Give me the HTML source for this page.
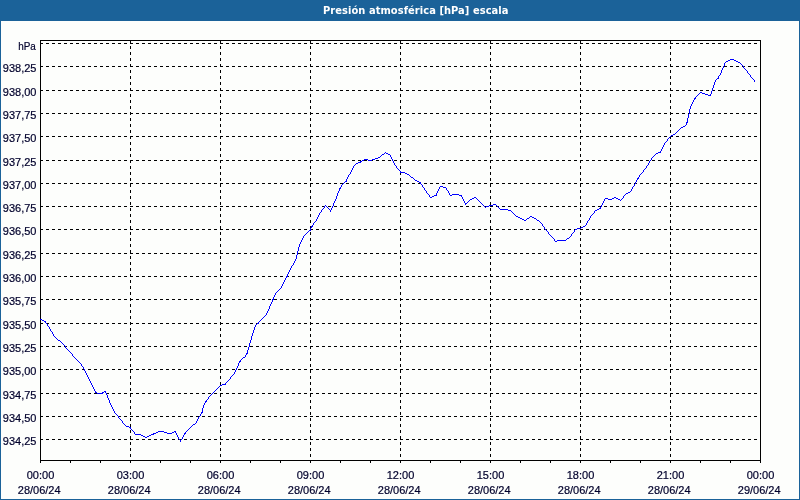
<!DOCTYPE html>
<html lang="es"><head><meta charset="utf-8"><title>Presión atmosférica [hPa] escala</title>
<style>html,body{margin:0;padding:0;width:800px;height:500px;overflow:hidden;background:#1b6299}svg{display:block;position:absolute;left:0;top:0}text{font-family:"Liberation Sans", sans-serif;font-size:11px;fill:#00002c;stroke:#00002c;stroke-width:.2px}.t{font-family:"DejaVu Sans Condensed", "Liberation Sans", sans-serif;font-weight:bold;fill:#fff;font-size:11px;stroke:none}</style></head><body>
<svg width="800" height="500" viewBox="0 0 800 500">
<rect x="0" y="0" width="800" height="500" fill="#1b6299"/>
<rect x="1" y="21" width="798" height="478" fill="#fdfefc"/>
<text class="t" x="323" y="14" textLength="185.5" lengthAdjust="spacing">Presión atmosférica [hPa] escala</text>
<g shape-rendering="crispEdges" stroke="#000" stroke-width="1" fill="none">
<line x1="40" y1="43.5" x2="760" y2="43.5" stroke-dasharray="3 3"/>
<line x1="40" y1="66.5" x2="760" y2="66.5" stroke-dasharray="3 3"/>
<line x1="40" y1="90.5" x2="760" y2="90.5" stroke-dasharray="3 3"/>
<line x1="40" y1="113.5" x2="760" y2="113.5" stroke-dasharray="3 3"/>
<line x1="40" y1="136.5" x2="760" y2="136.5" stroke-dasharray="3 3"/>
<line x1="40" y1="160.5" x2="760" y2="160.5" stroke-dasharray="3 3"/>
<line x1="40" y1="183.5" x2="760" y2="183.5" stroke-dasharray="3 3"/>
<line x1="40" y1="206.5" x2="760" y2="206.5" stroke-dasharray="3 3"/>
<line x1="40" y1="229.5" x2="760" y2="229.5" stroke-dasharray="3 3"/>
<line x1="40" y1="253.5" x2="760" y2="253.5" stroke-dasharray="3 3"/>
<line x1="40" y1="276.5" x2="760" y2="276.5" stroke-dasharray="3 3"/>
<line x1="40" y1="299.5" x2="760" y2="299.5" stroke-dasharray="3 3"/>
<line x1="40" y1="323.5" x2="760" y2="323.5" stroke-dasharray="3 3"/>
<line x1="40" y1="346.5" x2="760" y2="346.5" stroke-dasharray="3 3"/>
<line x1="40" y1="369.5" x2="760" y2="369.5" stroke-dasharray="3 3"/>
<line x1="40" y1="393.5" x2="760" y2="393.5" stroke-dasharray="3 3"/>
<line x1="40" y1="416.5" x2="760" y2="416.5" stroke-dasharray="3 3"/>
<line x1="40" y1="439.5" x2="760" y2="439.5" stroke-dasharray="3 3"/>
<line x1="40.5" y1="40" x2="40.5" y2="460" stroke-dasharray="3 3"/>
<line x1="130.5" y1="40" x2="130.5" y2="460" stroke-dasharray="3 3"/>
<line x1="220.5" y1="40" x2="220.5" y2="460" stroke-dasharray="3 3"/>
<line x1="310.5" y1="40" x2="310.5" y2="460" stroke-dasharray="3 3"/>
<line x1="400.5" y1="40" x2="400.5" y2="460" stroke-dasharray="3 3"/>
<line x1="490.5" y1="40" x2="490.5" y2="460" stroke-dasharray="3 3"/>
<line x1="580.5" y1="40" x2="580.5" y2="460" stroke-dasharray="3 3"/>
<line x1="670.5" y1="40" x2="670.5" y2="460" stroke-dasharray="3 3"/>
<line x1="760.5" y1="40" x2="760.5" y2="460" stroke-dasharray="3 3"/>
<rect x="40.5" y="40.5" width="720" height="420"/>
<line x1="40.5" y1="461" x2="40.5" y2="463"/>
<line x1="70.5" y1="461" x2="70.5" y2="463"/>
<line x1="100.5" y1="461" x2="100.5" y2="463"/>
<line x1="130.5" y1="461" x2="130.5" y2="463"/>
<line x1="160.5" y1="461" x2="160.5" y2="463"/>
<line x1="190.5" y1="461" x2="190.5" y2="463"/>
<line x1="220.5" y1="461" x2="220.5" y2="463"/>
<line x1="250.5" y1="461" x2="250.5" y2="463"/>
<line x1="280.5" y1="461" x2="280.5" y2="463"/>
<line x1="310.5" y1="461" x2="310.5" y2="463"/>
<line x1="340.5" y1="461" x2="340.5" y2="463"/>
<line x1="370.5" y1="461" x2="370.5" y2="463"/>
<line x1="400.5" y1="461" x2="400.5" y2="463"/>
<line x1="430.5" y1="461" x2="430.5" y2="463"/>
<line x1="460.5" y1="461" x2="460.5" y2="463"/>
<line x1="490.5" y1="461" x2="490.5" y2="463"/>
<line x1="520.5" y1="461" x2="520.5" y2="463"/>
<line x1="550.5" y1="461" x2="550.5" y2="463"/>
<line x1="580.5" y1="461" x2="580.5" y2="463"/>
<line x1="610.5" y1="461" x2="610.5" y2="463"/>
<line x1="640.5" y1="461" x2="640.5" y2="463"/>
<line x1="670.5" y1="461" x2="670.5" y2="463"/>
<line x1="700.5" y1="461" x2="700.5" y2="463"/>
<line x1="730.5" y1="461" x2="730.5" y2="463"/>
<line x1="760.5" y1="461" x2="760.5" y2="463"/>
</g>
<path shape-rendering="crispEdges" fill="#0000ff" d="M40 319h1v1h-1zM41 319h1v1h-1zM42 320h1v1h-1zM43 320h1v1h-1zM44 321h1v1h-1zM45 321h1v2h-1zM46 323h1v1h-1zM47 324h1v2h-1zM48 326h1v1h-1zM49 327h1v2h-1zM50 329h1v2h-1zM51 331h1v1h-1zM52 332h1v2h-1zM53 334h1v2h-1zM54 336h1v1h-1zM55 337h1v1h-1zM56 338h1v1h-1zM57 339h1v1h-1zM58 340h1v1h-1zM59 340h1v1h-1zM60 341h1v1h-1zM61 342h1v1h-1zM62 343h1v1h-1zM63 344h1v1h-1zM64 345h1v1h-1zM65 346h1v2h-1zM66 348h1v1h-1zM67 349h1v1h-1zM68 350h1v1h-1zM69 351h1v1h-1zM70 352h1v1h-1zM71 353h1v1h-1zM72 354h1v2h-1zM73 356h1v1h-1zM74 357h1v1h-1zM75 358h1v1h-1zM76 359h1v1h-1zM77 360h1v1h-1zM78 361h1v1h-1zM79 362h1v1h-1zM80 363h1v1h-1zM81 364h1v2h-1zM82 366h1v1h-1zM83 367h1v2h-1zM84 369h1v2h-1zM85 371h1v2h-1zM86 373h1v2h-1zM87 375h1v2h-1zM88 377h1v2h-1zM89 379h1v2h-1zM90 381h1v2h-1zM91 383h1v2h-1zM92 385h1v2h-1zM93 387h1v2h-1zM94 389h1v2h-1zM95 391h1v2h-1zM96 392h1v1h-1zM97 393h1v1h-1zM98 393h1v1h-1zM99 393h1v1h-1zM100 393h1v1h-1zM101 393h1v1h-1zM102 392h1v2h-1zM103 392h1v1h-1zM104 391h1v1h-1zM105 391h1v2h-1zM106 393h1v2h-1zM107 395h1v3h-1zM108 398h1v2h-1zM109 400h1v3h-1zM110 403h1v2h-1zM111 405h1v2h-1zM112 407h1v2h-1zM113 409h1v2h-1zM114 411h1v2h-1zM115 413h1v1h-1zM116 414h1v1h-1zM117 415h1v1h-1zM118 416h1v2h-1zM119 418h1v1h-1zM120 419h1v1h-1zM121 420h1v1h-1zM122 421h1v2h-1zM123 423h1v1h-1zM124 424h1v1h-1zM125 425h1v1h-1zM126 426h1v1h-1zM127 426h1v1h-1zM128 426h1v1h-1zM129 427h1v1h-1zM130 427h1v2h-1zM131 429h1v1h-1zM132 430h1v1h-1zM133 431h1v1h-1zM134 432h1v2h-1zM135 434h1v1h-1zM136 434h1v1h-1zM137 434h1v1h-1zM138 434h1v1h-1zM139 434h1v1h-1zM140 434h1v1h-1zM141 435h1v1h-1zM142 435h1v1h-1zM143 436h1v1h-1zM144 436h1v1h-1zM145 437h1v1h-1zM146 437h1v1h-1zM147 436h1v1h-1zM148 436h1v1h-1zM149 435h1v1h-1zM150 435h1v1h-1zM151 434h1v1h-1zM152 434h1v1h-1zM153 433h1v2h-1zM154 433h1v1h-1zM155 433h1v1h-1zM156 432h1v1h-1zM157 432h1v1h-1zM158 431h1v1h-1zM159 431h1v1h-1zM160 431h1v1h-1zM161 431h1v1h-1zM162 431h1v1h-1zM163 431h1v1h-1zM164 432h1v1h-1zM165 432h1v1h-1zM166 432h1v1h-1zM167 433h1v1h-1zM168 433h1v1h-1zM169 433h1v1h-1zM170 433h1v1h-1zM171 433h1v1h-1zM172 432h1v1h-1zM173 432h1v1h-1zM174 431h1v1h-1zM175 431h1v2h-1zM176 433h1v2h-1zM177 435h1v2h-1zM178 437h1v2h-1zM179 439h1v1h-1zM180 440h1v2h-1zM181 439h1v1h-1zM182 437h1v2h-1zM183 435h1v2h-1zM184 433h1v2h-1zM185 432h1v2h-1zM186 431h1v1h-1zM187 430h1v1h-1zM188 429h1v1h-1zM189 428h1v1h-1zM190 427h1v1h-1zM191 426h1v1h-1zM192 425h1v1h-1zM193 424h1v1h-1zM194 424h1v1h-1zM195 423h1v1h-1zM196 421h1v2h-1zM197 419h1v2h-1zM198 417h1v2h-1zM199 416h1v1h-1zM200 414h1v2h-1zM201 412h1v2h-1zM202 408h1v5h-1zM203 405h1v3h-1zM204 403h1v2h-1zM205 401h1v2h-1zM206 400h1v2h-1zM207 399h1v1h-1zM208 397h1v2h-1zM209 396h1v1h-1zM210 395h1v1h-1zM211 394h1v1h-1zM212 393h1v1h-1zM213 392h1v1h-1zM214 391h1v1h-1zM215 390h1v1h-1zM216 389h1v1h-1zM217 388h1v1h-1zM218 387h1v1h-1zM219 386h1v1h-1zM220 385h1v1h-1zM221 385h1v1h-1zM222 384h1v1h-1zM223 384h1v1h-1zM224 384h1v1h-1zM225 383h1v2h-1zM226 382h1v1h-1zM227 381h1v1h-1zM228 380h1v1h-1zM229 379h1v1h-1zM230 377h1v2h-1zM231 376h1v1h-1zM232 375h1v1h-1zM233 374h1v1h-1zM234 372h1v2h-1zM235 370h1v2h-1zM236 368h1v2h-1zM237 366h1v2h-1zM238 363h1v3h-1zM239 361h1v2h-1zM240 360h1v2h-1zM241 359h1v1h-1zM242 358h1v1h-1zM243 357h1v1h-1zM244 357h1v1h-1zM245 355h1v2h-1zM246 353h1v2h-1zM247 350h1v4h-1zM248 347h1v3h-1zM249 343h1v4h-1zM250 340h1v3h-1zM251 336h1v4h-1zM252 333h1v3h-1zM253 330h1v3h-1zM254 327h1v3h-1zM255 325h1v2h-1zM256 324h1v1h-1zM257 323h1v1h-1zM258 322h1v2h-1zM259 321h1v1h-1zM260 320h1v1h-1zM261 319h1v1h-1zM262 318h1v1h-1zM263 317h1v1h-1zM264 316h1v1h-1zM265 315h1v1h-1zM266 313h1v2h-1zM267 311h1v2h-1zM268 309h1v2h-1zM269 306h1v3h-1zM270 304h1v2h-1zM271 302h1v2h-1zM272 299h1v3h-1zM273 297h1v3h-1zM274 295h1v2h-1zM275 293h1v2h-1zM276 292h1v1h-1zM277 291h1v1h-1zM278 290h1v1h-1zM279 289h1v1h-1zM280 288h1v1h-1zM281 286h1v2h-1zM282 284h1v2h-1zM283 282h1v2h-1zM284 280h1v2h-1zM285 278h1v2h-1zM286 276h1v2h-1zM287 274h1v3h-1zM288 272h1v2h-1zM289 270h1v2h-1zM290 268h1v2h-1zM291 266h1v2h-1zM292 265h1v1h-1zM293 263h1v2h-1zM294 261h1v2h-1zM295 259h1v2h-1zM296 255h1v4h-1zM297 251h1v4h-1zM298 247h1v4h-1zM299 244h1v3h-1zM300 242h1v2h-1zM301 240h1v2h-1zM302 238h1v2h-1zM303 236h1v2h-1zM304 235h1v1h-1zM305 234h1v1h-1zM306 233h1v1h-1zM307 232h1v1h-1zM308 231h1v1h-1zM309 230h1v1h-1zM310 228h1v3h-1zM311 226h1v2h-1zM312 225h1v2h-1zM313 223h1v2h-1zM314 222h1v1h-1zM315 221h1v1h-1zM316 219h1v2h-1zM317 217h1v2h-1zM318 215h1v2h-1zM319 213h1v2h-1zM320 212h1v1h-1zM321 210h1v2h-1zM322 209h1v1h-1zM323 208h1v1h-1zM324 206h1v2h-1zM325 205h1v1h-1zM326 206h1v1h-1zM327 207h1v1h-1zM328 208h1v1h-1zM329 209h1v1h-1zM330 210h1v2h-1zM331 208h1v2h-1zM332 206h1v2h-1zM333 203h1v3h-1zM334 201h1v2h-1zM335 199h1v2h-1zM336 196h1v3h-1zM337 193h1v3h-1zM338 191h1v2h-1zM339 188h1v3h-1zM340 187h1v2h-1zM341 185h1v2h-1zM342 184h1v1h-1zM343 183h1v1h-1zM344 182h1v1h-1zM345 181h1v1h-1zM346 179h1v3h-1zM347 177h1v2h-1zM348 175h1v2h-1zM349 174h1v1h-1zM350 172h1v2h-1zM351 170h1v2h-1zM352 168h1v2h-1zM353 166h1v2h-1zM354 165h1v1h-1zM355 164h1v1h-1zM356 163h1v1h-1zM357 163h1v1h-1zM358 162h1v1h-1zM359 162h1v1h-1zM360 161h1v2h-1zM361 161h1v1h-1zM362 160h1v1h-1zM363 160h1v1h-1zM364 159h1v1h-1zM365 159h1v1h-1zM366 159h1v1h-1zM367 159h1v1h-1zM368 160h1v1h-1zM369 160h1v1h-1zM370 160h1v1h-1zM371 160h1v1h-1zM372 159h1v1h-1zM373 159h1v1h-1zM374 159h1v1h-1zM375 158h1v1h-1zM376 158h1v1h-1zM377 158h1v1h-1zM378 157h1v1h-1zM379 157h1v1h-1zM380 156h1v1h-1zM381 155h1v1h-1zM382 154h1v1h-1zM383 154h1v1h-1zM384 153h1v1h-1zM385 152h1v1h-1zM386 153h1v1h-1zM387 153h1v1h-1zM388 154h1v1h-1zM389 154h1v1h-1zM390 155h1v2h-1zM391 157h1v2h-1zM392 159h1v2h-1zM393 161h1v2h-1zM394 163h1v2h-1zM395 165h1v1h-1zM396 166h1v2h-1zM397 168h1v1h-1zM398 169h1v1h-1zM399 170h1v1h-1zM400 171h1v2h-1zM401 172h1v1h-1zM402 172h1v1h-1zM403 172h1v1h-1zM404 172h1v1h-1zM405 173h1v1h-1zM406 173h1v1h-1zM407 174h1v1h-1zM408 174h1v1h-1zM409 175h1v1h-1zM410 176h1v1h-1zM411 177h1v1h-1zM412 177h1v1h-1zM413 178h1v1h-1zM414 179h1v1h-1zM415 180h1v1h-1zM416 180h1v1h-1zM417 181h1v1h-1zM418 181h1v1h-1zM419 182h1v1h-1zM420 182h1v2h-1zM421 184h1v1h-1zM422 185h1v2h-1zM423 187h1v1h-1zM424 188h1v2h-1zM425 190h1v1h-1zM426 191h1v2h-1zM427 193h1v1h-1zM428 194h1v1h-1zM429 195h1v2h-1zM430 197h1v1h-1zM431 197h1v1h-1zM432 196h1v1h-1zM433 196h1v1h-1zM434 195h1v1h-1zM435 195h1v1h-1zM436 193h1v3h-1zM437 191h1v2h-1zM438 189h1v2h-1zM439 187h1v2h-1zM440 186h1v1h-1zM441 186h1v1h-1zM442 186h1v1h-1zM443 187h1v1h-1zM444 187h1v1h-1zM445 187h1v1h-1zM446 188h1v2h-1zM447 190h1v1h-1zM448 191h1v2h-1zM449 193h1v2h-1zM450 195h1v1h-1zM451 195h1v1h-1zM452 194h1v1h-1zM453 194h1v1h-1zM454 194h1v1h-1zM455 194h1v1h-1zM456 194h1v1h-1zM457 194h1v1h-1zM458 194h1v1h-1zM459 195h1v1h-1zM460 195h1v1h-1zM461 195h1v2h-1zM462 197h1v2h-1zM463 199h1v2h-1zM464 201h1v2h-1zM465 203h1v2h-1zM466 203h1v1h-1zM467 202h1v1h-1zM468 201h1v1h-1zM469 200h1v1h-1zM470 199h1v1h-1zM471 199h1v1h-1zM472 198h1v1h-1zM473 198h1v1h-1zM474 197h1v1h-1zM475 197h1v1h-1zM476 198h1v1h-1zM477 199h1v1h-1zM478 200h1v1h-1zM479 201h1v1h-1zM480 202h1v1h-1zM481 203h1v1h-1zM482 204h1v1h-1zM483 205h1v1h-1zM484 206h1v1h-1zM485 207h1v1h-1zM486 206h1v1h-1zM487 206h1v1h-1zM488 206h1v1h-1zM489 205h1v1h-1zM490 205h1v1h-1zM491 205h1v1h-1zM492 205h1v1h-1zM493 204h1v1h-1zM494 204h1v1h-1zM495 204h1v1h-1zM496 205h1v1h-1zM497 206h1v1h-1zM498 207h1v1h-1zM499 208h1v1h-1zM500 209h1v1h-1zM501 209h1v1h-1zM502 209h1v1h-1zM503 209h1v1h-1zM504 209h1v1h-1zM505 209h1v1h-1zM506 209h1v1h-1zM507 209h1v1h-1zM508 210h1v1h-1zM509 210h1v1h-1zM510 210h1v1h-1zM511 211h1v1h-1zM512 212h1v1h-1zM513 213h1v1h-1zM514 214h1v1h-1zM515 215h1v1h-1zM516 216h1v1h-1zM517 216h1v1h-1zM518 217h1v1h-1zM519 217h1v1h-1zM520 218h1v1h-1zM521 218h1v1h-1zM522 219h1v1h-1zM523 219h1v1h-1zM524 220h1v1h-1zM525 220h1v1h-1zM526 219h1v1h-1zM527 218h1v1h-1zM528 218h1v1h-1zM529 217h1v1h-1zM530 216h1v1h-1zM531 216h1v1h-1zM532 217h1v1h-1zM533 217h1v1h-1zM534 218h1v1h-1zM535 218h1v1h-1zM536 219h1v1h-1zM537 220h1v1h-1zM538 220h1v1h-1zM539 221h1v1h-1zM540 222h1v1h-1zM541 223h1v1h-1zM542 224h1v2h-1zM543 226h1v1h-1zM544 227h1v2h-1zM545 229h1v1h-1zM546 230h1v1h-1zM547 231h1v1h-1zM548 232h1v2h-1zM549 234h1v1h-1zM550 235h1v1h-1zM551 236h1v1h-1zM552 237h1v1h-1zM553 238h1v1h-1zM554 239h1v2h-1zM555 241h1v1h-1zM556 241h1v1h-1zM557 240h1v1h-1zM558 240h1v1h-1zM559 240h1v1h-1zM560 240h1v1h-1zM561 240h1v1h-1zM562 240h1v1h-1zM563 240h1v1h-1zM564 240h1v1h-1zM565 240h1v1h-1zM566 239h1v1h-1zM567 238h1v1h-1zM568 238h1v1h-1zM569 237h1v1h-1zM570 236h1v1h-1zM571 234h1v2h-1zM572 233h1v1h-1zM573 232h1v1h-1zM574 230h1v2h-1zM575 229h1v1h-1zM576 229h1v1h-1zM577 228h1v1h-1zM578 228h1v1h-1zM579 228h1v1h-1zM580 228h1v1h-1zM581 227h1v1h-1zM582 227h1v1h-1zM583 226h1v1h-1zM584 226h1v1h-1zM585 225h1v1h-1zM586 223h1v2h-1zM587 221h1v2h-1zM588 220h1v1h-1zM589 218h1v2h-1zM590 216h1v2h-1zM591 215h1v1h-1zM592 214h1v1h-1zM593 213h1v1h-1zM594 211h1v2h-1zM595 210h1v1h-1zM596 210h1v1h-1zM597 209h1v1h-1zM598 209h1v1h-1zM599 208h1v1h-1zM600 207h1v2h-1zM601 205h1v2h-1zM602 203h1v2h-1zM603 201h1v2h-1zM604 199h1v2h-1zM605 198h1v1h-1zM606 198h1v1h-1zM607 198h1v1h-1zM608 199h1v1h-1zM609 199h1v1h-1zM610 199h1v1h-1zM611 199h1v1h-1zM612 198h1v1h-1zM613 198h1v1h-1zM614 197h1v1h-1zM615 197h1v1h-1zM616 198h1v1h-1zM617 198h1v1h-1zM618 199h1v1h-1zM619 199h1v1h-1zM620 200h1v1h-1zM621 199h1v1h-1zM622 198h1v1h-1zM623 196h1v2h-1zM624 195h1v1h-1zM625 194h1v1h-1zM626 193h1v1h-1zM627 193h1v1h-1zM628 192h1v1h-1zM629 192h1v1h-1zM630 191h1v1h-1zM631 189h1v2h-1zM632 187h1v2h-1zM633 186h1v1h-1zM634 184h1v2h-1zM635 182h1v2h-1zM636 180h1v2h-1zM637 178h1v2h-1zM638 177h1v2h-1zM639 175h1v2h-1zM640 174h1v1h-1zM641 173h1v1h-1zM642 172h1v1h-1zM643 170h1v2h-1zM644 169h1v1h-1zM645 168h1v1h-1zM646 166h1v2h-1zM647 165h1v1h-1zM648 163h1v2h-1zM649 161h1v2h-1zM650 160h1v1h-1zM651 158h1v2h-1zM652 157h1v1h-1zM653 156h1v1h-1zM654 155h1v1h-1zM655 154h1v1h-1zM656 153h1v1h-1zM657 153h1v1h-1zM658 152h1v1h-1zM659 152h1v1h-1zM660 151h1v2h-1zM661 149h1v2h-1zM662 147h1v2h-1zM663 145h1v2h-1zM664 143h1v2h-1zM665 142h1v1h-1zM666 141h1v1h-1zM667 139h1v2h-1zM668 138h1v1h-1zM669 137h1v1h-1zM670 136h1v1h-1zM671 135h1v1h-1zM672 135h1v1h-1zM673 134h1v1h-1zM674 134h1v1h-1zM675 133h1v1h-1zM676 132h1v1h-1zM677 131h1v1h-1zM678 130h1v1h-1zM679 129h1v1h-1zM680 128h1v1h-1zM681 127h1v1h-1zM682 127h1v1h-1zM683 126h1v1h-1zM684 126h1v1h-1zM685 125h1v1h-1zM686 122h1v3h-1zM687 118h1v5h-1zM688 114h1v4h-1zM689 109h1v5h-1zM690 106h1v3h-1zM691 104h1v2h-1zM692 102h1v2h-1zM693 100h1v2h-1zM694 98h1v2h-1zM695 97h1v2h-1zM696 96h1v1h-1zM697 95h1v1h-1zM698 94h1v1h-1zM699 93h1v1h-1zM700 92h1v1h-1zM701 92h1v1h-1zM702 93h1v1h-1zM703 93h1v1h-1zM704 93h1v1h-1zM705 94h1v1h-1zM706 94h1v1h-1zM707 94h1v1h-1zM708 95h1v1h-1zM709 95h1v1h-1zM710 94h1v2h-1zM711 91h1v3h-1zM712 88h1v3h-1zM713 85h1v3h-1zM714 82h1v3h-1zM715 80h1v2h-1zM716 79h1v1h-1zM717 78h1v1h-1zM718 76h1v3h-1zM719 75h1v1h-1zM720 73h1v2h-1zM721 70h1v3h-1zM722 68h1v2h-1zM723 66h1v2h-1zM724 63h1v3h-1zM725 62h1v1h-1zM726 61h1v1h-1zM727 61h1v1h-1zM728 60h1v1h-1zM729 60h1v1h-1zM730 59h1v1h-1zM731 59h1v1h-1zM732 59h1v1h-1zM733 59h1v1h-1zM734 60h1v1h-1zM735 60h1v1h-1zM736 61h1v1h-1zM737 61h1v1h-1zM738 62h1v1h-1zM739 62h1v1h-1zM740 63h1v1h-1zM741 64h1v1h-1zM742 65h1v1h-1zM743 66h1v2h-1zM744 68h1v1h-1zM745 69h1v1h-1zM746 70h1v1h-1zM747 71h1v2h-1zM748 73h1v1h-1zM749 74h1v1h-1zM750 75h1v2h-1zM751 77h1v1h-1zM752 78h1v1h-1zM753 79h1v1h-1zM754 80h1v2h-1z"/>
<text x="18.2" y="49.7" textLength="17.6" lengthAdjust="spacingAndGlyphs">hPa</text>
<text x="36.5" y="72" text-anchor="end">938,25</text>
<text x="36.5" y="96" text-anchor="end">938,00</text>
<text x="36.5" y="119" text-anchor="end">937,75</text>
<text x="36.5" y="142" text-anchor="end">937,50</text>
<text x="36.5" y="166" text-anchor="end">937,25</text>
<text x="36.5" y="189" text-anchor="end">937,00</text>
<text x="36.5" y="212" text-anchor="end">936,75</text>
<text x="36.5" y="235" text-anchor="end">936,50</text>
<text x="36.5" y="259" text-anchor="end">936,25</text>
<text x="36.5" y="282" text-anchor="end">936,00</text>
<text x="36.5" y="305" text-anchor="end">935,75</text>
<text x="36.5" y="329" text-anchor="end">935,50</text>
<text x="36.5" y="352" text-anchor="end">935,25</text>
<text x="36.5" y="375" text-anchor="end">935,00</text>
<text x="36.5" y="399" text-anchor="end">934,75</text>
<text x="36.5" y="422" text-anchor="end">934,50</text>
<text x="36.5" y="445" text-anchor="end">934,25</text>
<text x="40.5" y="479" text-anchor="middle">00:00</text>
<text x="39.2" y="494" text-anchor="middle">28/06/24</text>
<text x="130.5" y="479" text-anchor="middle">03:00</text>
<text x="129.2" y="494" text-anchor="middle">28/06/24</text>
<text x="220.5" y="479" text-anchor="middle">06:00</text>
<text x="219.2" y="494" text-anchor="middle">28/06/24</text>
<text x="310.5" y="479" text-anchor="middle">09:00</text>
<text x="309.2" y="494" text-anchor="middle">28/06/24</text>
<text x="400.5" y="479" text-anchor="middle">12:00</text>
<text x="399.2" y="494" text-anchor="middle">28/06/24</text>
<text x="490.5" y="479" text-anchor="middle">15:00</text>
<text x="489.2" y="494" text-anchor="middle">28/06/24</text>
<text x="580.5" y="479" text-anchor="middle">18:00</text>
<text x="579.2" y="494" text-anchor="middle">28/06/24</text>
<text x="670.5" y="479" text-anchor="middle">21:00</text>
<text x="669.2" y="494" text-anchor="middle">28/06/24</text>
<text x="760.5" y="479" text-anchor="middle">00:00</text>
<text x="759.2" y="494" text-anchor="middle">29/06/24</text>
</svg></body></html>
